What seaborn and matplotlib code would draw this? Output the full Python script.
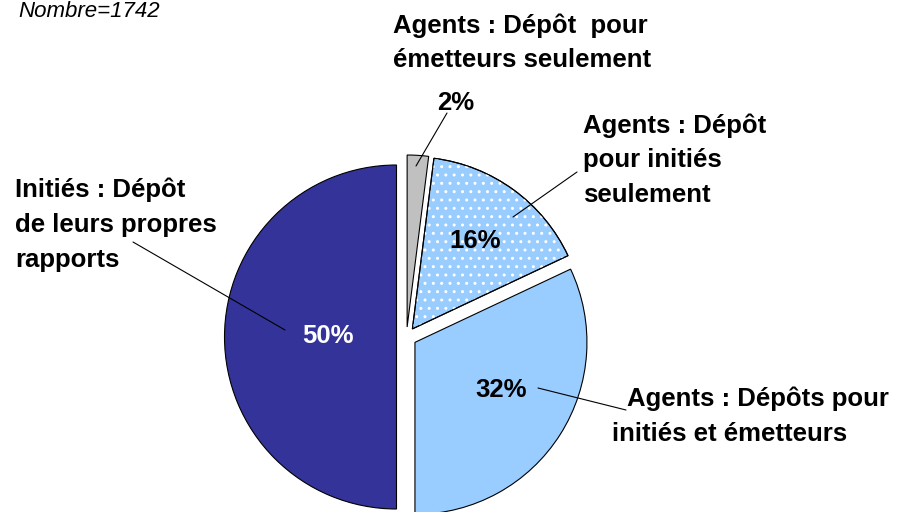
import matplotlib
matplotlib.use("Agg")
import matplotlib.pyplot as plt
import seaborn as sns
from matplotlib.patches import Wedge

sns.set_theme(style="white")
plt.rcParams["font.family"] = ["Liberation Sans", "DejaVu Sans"]
plt.rcParams["text.color"] = "black"

# slices, clockwise from 12 o'clock
categories = [
    "Agents : Dépôt  pour\németteurs seulement",
    "Agents : Dépôt\npour initiés\nseulement",
    "Agents : Dépôts pour\ninitiés et émetteurs",
    "Initiés : Dépôt\nde leurs propres\nrapports",
]
shares = [2, 16, 32, 50]
pct_labels = ["2%", "16%", "32%", "50%"]
slice_colors = ["#c0c0c0", "#99ccff", "#99ccff", "#333399"]
pct_colors = ["black", "black", "black", "white"]
total = 1742

W, H = 900, 512
FS = 18.5


def py(y):
  # picture rows run downwards, data y upwards
  return H - y


fig = plt.figure(figsize=(9, 5.12), dpi=100)
ax = fig.add_axes([0, 0, 1, 1])

cx, cy, r = 406.5, py(337), 172
# pie explode is an absolute offset, so give it in pixels
wedges, _ = ax.pie(
  shares,
  colors=slice_colors,
  startangle=90,
  counterclock=False,
  explode=[10] * len(shares),
  radius=r,
  center=(cx, cy),
  wedgeprops=dict(edgecolor="black", linewidth=0.8),
)

# dotted fill on the "initiés seulement" slice
w = wedges[1]
ax.add_patch(Wedge(w.center, w.r, w.theta1, w.theta2, facecolor="none",
                   edgecolor="white", hatch="..", linewidth=0))
ax.add_patch(Wedge(w.center, w.r, w.theta1, w.theta2, facecolor="none",
                   edgecolor="black", linewidth=0.8))

ax.set_xlim(0, W)
ax.set_ylim(0, H)
ax.set_aspect("equal")
ax.axis("off")

# percent labels (center x, baseline y)
pct_pos = [(456, 110), (475, 248), (501, 397), (328, 343)]
for txt, col, (x, y) in zip(pct_labels, pct_colors, pct_pos):
  ax.text(x, py(y), txt, color=col, fontsize=FS, fontweight="bold",
          ha="center", va="baseline")

# category labels: left x per line, first baseline, line step
cat_pos = [
  ([393, 393], 33, 34),
  ([583, 583, 583], 133, 34.5),
  ([627, 612], 406, 35),
  ([15, 15, 15], 197, 35),
]
for txt, (xs, y0, step) in zip(categories, cat_pos):
  for i, (line, x) in enumerate(zip(txt.split("\n"), xs)):
    ax.text(x, py(y0 + i * step), line, fontsize=FS, fontweight="bold",
            ha="left", va="baseline")

# leader lines
leaders = [
  ((447, 113), (416, 166)),
  ((577, 172), (513, 217)),
  ((538, 388), (626, 410)),
  ((133, 242), (285, 330)),
]
for (x0, y0), (x1, y1) in leaders:
  ax.plot([x0, x1], [py(y0), py(y1)], color="black", linewidth=0.8)

ax.text(18, py(17), f"Nombre={total}", fontsize=16, fontstyle="italic",
        ha="left", va="baseline")

fig.savefig("out.png", dpi=100, facecolor="white")
